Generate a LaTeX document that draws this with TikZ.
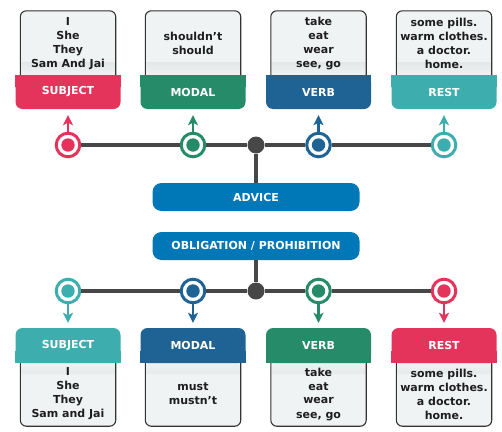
\documentclass[tikz,border=0pt]{standalone}
\usepackage{fontspec}
\setmainfont{DejaVu Sans}
\usepackage{tikz}
\usetikzlibrary{arrows.meta,backgrounds}

\definecolor{subjred}{HTML}{E4345B}
\definecolor{modgreen}{HTML}{268B68}
\definecolor{verbblue}{HTML}{1F6394}
\definecolor{restteal}{HTML}{3EADAD}
\definecolor{advblue}{HTML}{0077B6}
\definecolor{linegray}{HTML}{474747}
\definecolor{boxbg}{HTML}{F0F3F4}
\definecolor{boxsh}{HTML}{BABEC0}
\definecolor{boxline}{HTML}{333333}
\definecolor{inkdark}{HTML}{1E1E1E}

\begin{document}
\begin{tikzpicture}[x=1pt,y=-1pt,
	every node/.style={font=\fontsize{11}{14}\selectfont\bfseries},
	words/.style={minimum width=95pt,inner sep=0pt,align=center,text=inkdark},
	band/.style={minimum width=105pt,inner sep=0pt,rounded corners=7pt,text=white},
	ring/.style={circle,minimum size=23.6pt,inner sep=0pt,line width=3pt,draw=#1,fill=white,
		path picture={\fill[#1] (path picture bounding box.center) circle (6.7pt);}},
	hub/.style={circle,fill=linegray,minimum size=17pt,inner sep=0pt},
	title/.style={fill=advblue,text=white,rounded corners=9pt,minimum width=207pt,minimum height=28pt},
	topbox/.style={draw=boxline,line width=1.1pt,fill=boxbg,
		path picture={\shade[top color=boxsh,bottom color=boxbg] ([yshift=14pt]path picture bounding box.south west) rectangle (path picture bounding box.south east);}},
	botbox/.style={draw=boxline,line width=1.1pt,fill=boxbg,
		path picture={\shade[top color=boxbg,bottom color=boxsh] (path picture bounding box.north west) rectangle ([yshift=-12pt]path picture bounding box.north east);}}]

	\useasboundingbox (0,0) rectangle (502,431);

	% advice row
	\begin{scope}[every node/.append style={minimum height=65pt}]
		\node[words] (tsubj) at (68,43.5) {I\\She\\They\\Sam And Jai};
		\node[words] (tmod) at (193,43.5) {shouldn’t\\should};
		\node[words] (tverb) at (318.5,43.5) {take\\eat\\wear\\see, go};
		\node[words] (trest) at (444,43.5) {some pills.\\warm clothes.\\a doctor.\\home.};
	\end{scope}

	\begin{scope}[every node/.append style={minimum height=34pt}]
		\node[band,fill=subjred] (bsubj) at (68,92) {SUBJECT};
		\node[band,fill=modgreen] (bmod) at (193,92) {MODAL};
		\node[band,fill=verbblue] (bverb) at (318.5,92) {VERB};
		\node[band,fill=restteal] (brest) at (444,92) {REST};
	\end{scope}

	\node[ring=subjred] (csubj) at (68,145) {};
	\node[ring=modgreen] (cmod) at (193,145) {};
	\node[ring=verbblue] (cverb) at (318.5,145) {};
	\node[ring=restteal] (crest) at (444,145) {};
	\node[hub] (hup) at (256,145) {};

	\node[title] (advice) at (256,197) {ADVICE};
	\node[title] (oblig) at (256,246) {OBLIGATION / PROHIBITION};

	% obligation row
	\node[hub] (hdown) at (256,291) {};
	\node[ring=restteal] (dsubj) at (68,291) {};
	\node[ring=verbblue] (dmod) at (193,291) {};
	\node[ring=modgreen] (dverb) at (318.5,291) {};
	\node[ring=subjred] (drest) at (444,291) {};

	\begin{scope}[every node/.append style={minimum height=35pt}]
		\node[band,fill=restteal] (esubj) at (68,345.5) {SUBJECT};
		\node[band,fill=verbblue] (emod) at (193,345.5) {MODAL};
		\node[band,fill=modgreen] (everb) at (318.5,345.5) {VERB};
		\node[band,fill=subjred] (erest) at (444,345.5) {REST};
	\end{scope}

	\begin{scope}[every node/.append style={minimum height=64pt}]
		\node[words] (usubj) at (68,394) {I\\She\\They\\Sam and Jai};
		\node[words] (umod) at (193,394) {must\\mustn’t};
		\node[words] (uverb) at (318.5,394) {take\\eat\\wear\\see, go};
		\node[words] (urest) at (444,394) {some pills.\\warm clothes.\\a doctor.\\home.};
	\end{scope}

	\begin{scope}[on background layer]
		\draw[topbox] (tsubj.south west) [rounded corners=6pt] -- (tsubj.north west) -- (tsubj.north east) [sharp corners] -- (tsubj.south east) -- cycle;
		\draw[topbox] (tmod.south west) [rounded corners=6pt] -- (tmod.north west) -- (tmod.north east) [sharp corners] -- (tmod.south east) -- cycle;
		\draw[topbox] (tverb.south west) [rounded corners=6pt] -- (tverb.north west) -- (tverb.north east) [sharp corners] -- (tverb.south east) -- cycle;
		\draw[topbox] (trest.south west) [rounded corners=6pt] -- (trest.north west) -- (trest.north east) [sharp corners] -- (trest.south east) -- cycle;
		\draw[botbox] (usubj.north west) [rounded corners=6pt] -- (usubj.south west) -- (usubj.south east) [sharp corners] -- (usubj.north east) -- cycle;
		\draw[botbox] (umod.north west) [rounded corners=6pt] -- (umod.south west) -- (umod.south east) [sharp corners] -- (umod.north east) -- cycle;
		\draw[botbox] (uverb.north west) [rounded corners=6pt] -- (uverb.south west) -- (uverb.south east) [sharp corners] -- (uverb.north east) -- cycle;
		\draw[botbox] (urest.north west) [rounded corners=6pt] -- (urest.south west) -- (urest.south east) [sharp corners] -- (urest.north east) -- cycle;

		% square the corners that meet the boxes
		\fill[subjred] (bsubj.north west) rectangle ([yshift=-12pt]bsubj.north east);
		\fill[modgreen] (bmod.north west) rectangle ([yshift=-12pt]bmod.north east);
		\fill[verbblue] (bverb.north west) rectangle ([yshift=-12pt]bverb.north east);
		\fill[restteal] (brest.north west) rectangle ([yshift=-12pt]brest.north east);
		\fill[restteal] ([yshift=12pt]esubj.south west) rectangle (esubj.south east);
		\fill[verbblue] ([yshift=12pt]emod.south west) rectangle (emod.south east);
		\fill[modgreen] ([yshift=12pt]everb.south west) rectangle (everb.south east);
		\fill[subjred] ([yshift=12pt]erest.south west) rectangle (erest.south east);
	\end{scope}

	\begin{scope}[every edge/.style={draw=linegray,line width=4pt}]
		\path (csubj) edge (cmod) (cmod) edge (hup) (hup) edge (cverb) (cverb) edge (crest);
		\path (hup) edge (advice);
		\path (oblig) edge (hdown);
		\path (dsubj) edge (dmod) (dmod) edge (hdown) (hdown) edge (dverb) (dverb) edge (drest);
	\end{scope}

	\begin{scope}[>={Stealth[length=10pt,width=10pt,inset=2.5pt]},
				  every edge/.style={draw,->,line width=2.4pt}]
		\path (csubj) edge[subjred,shorten >=6pt] (bsubj);
		\path (cmod) edge[modgreen,shorten >=6pt] (bmod);
		\path (cverb) edge[verbblue,shorten >=6pt] (bverb);
		\path (crest) edge[restteal,shorten >=6pt] (brest);
		\path (dsubj) edge[restteal,shorten >=5pt] (esubj);
		\path (dmod) edge[verbblue,shorten >=5pt] (emod);
		\path (dverb) edge[modgreen,shorten >=5pt] (everb);
		\path (drest) edge[subjred,shorten >=5pt] (erest);
	\end{scope}
\end{tikzpicture}
\end{document}
